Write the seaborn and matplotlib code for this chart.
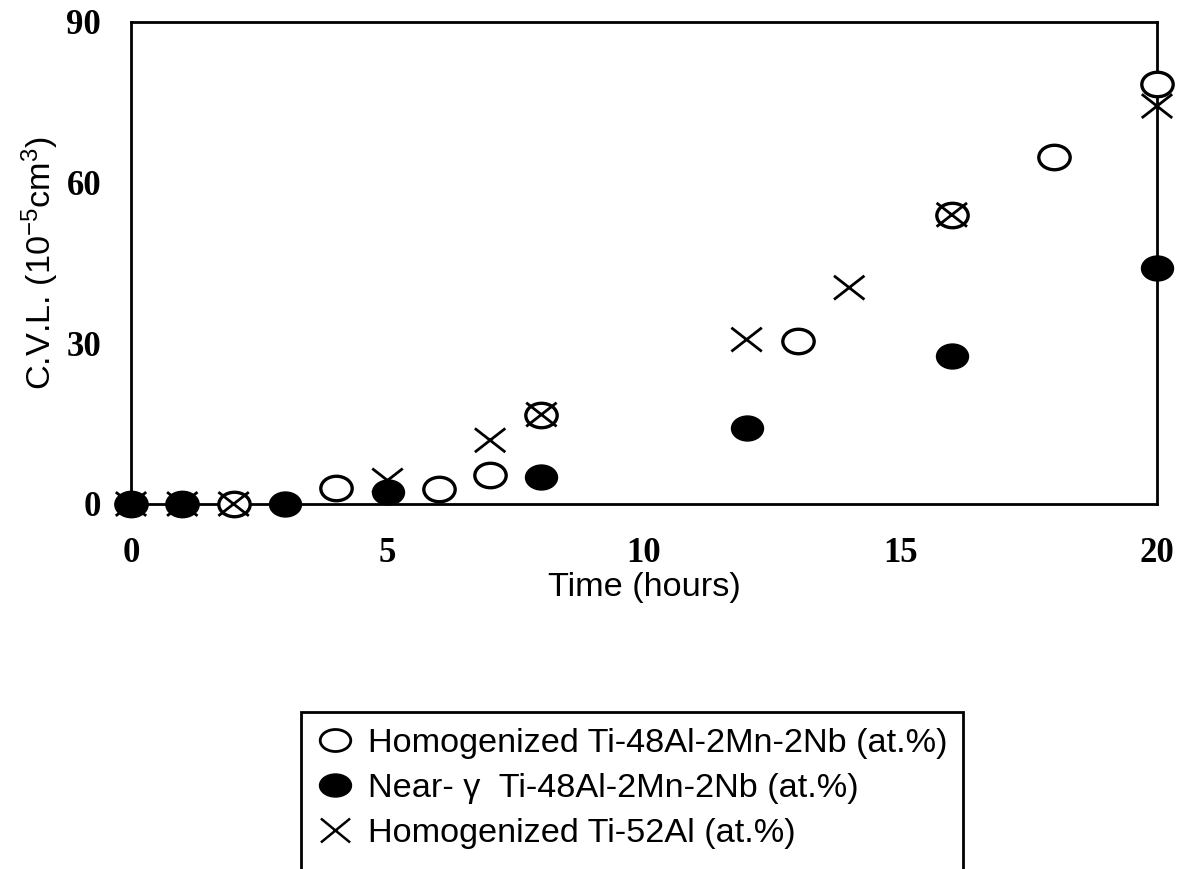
import numpy as np
import pandas as pd
import matplotlib
matplotlib.use("Agg")
import matplotlib.pyplot as plt
import seaborn as sns
from matplotlib.path import Path
from matplotlib.lines import Line2D

# Cumulative volume loss (10^-5 cm^3) against exposure time (hours)
hom_time = [0, 1, 2, 4, 6, 7, 8, 13, 16, 18, 20]
hom_cvl = [0, 0, 0, 3.0, 2.8, 5.4, 16.7, 30.4, 54.0, 64.8, 78.5]

near_time = [0, 1, 3, 5, 8, 12, 16, 20]
near_cvl = [0, 0, 0, 2.2, 5.0, 14.1, 27.6, 44.1]

ti52_time = [0, 1, 2, 5, 7, 8, 12, 14, 16, 20]
ti52_cvl = [0, 0, 0, 4.4, 11.9, 16.7, 30.7, 40.4, 54.0, 74.3]

labels = [
    "Homogenized Ti-48Al-2Mn-2Nb (at.%)",
    "Near- \u03b3  Ti-48Al-2Mn-2Nb (at.%)",
    "Homogenized Ti-52Al (at.%)",
]
x_ticks = [0, 5, 10, 15, 20]
y_ticks = [0, 30, 60, 90]

sns.set_style("white")
plt.rcParams["font.family"] = ["Liberation Sans", "DejaVu Sans"]
plt.rcParams["mathtext.default"] = "regular"
for key in ("text.color", "axes.labelcolor", "xtick.color", "ytick.color"):
    plt.rcParams[key] = "black"

# Slightly flattened ellipse and cross markers
def ellipse_path(aspect):
    circ = Path.unit_circle()
    return Path(circ.vertices * np.array([1.0, aspect]), circ.codes)

def cross_path(aspect):
    return Path(
        [(-1, -aspect), (1, aspect), (-1, aspect), (1, -aspect)],
        [Path.MOVETO, Path.LINETO, Path.MOVETO, Path.LINETO],
    )

ellipse = ellipse_path(0.78)
cross = cross_path(0.78)

W, H = 1179, 869
L, R, B, T = 131, 1157, 504, 22
fig = plt.figure(figsize=(W / 100, H / 100), dpi=100)
ax = fig.add_axes([L / W, 1 - B / H, (R - L) / W, (B - T) / H])

hom = pd.DataFrame({"t": hom_time, "v": hom_cvl})
near = pd.DataFrame({"t": near_time, "v": near_cvl})
ti52 = pd.DataFrame({"t": ti52_time, "v": ti52_cvl})

sns.scatterplot(data=hom, x="t", y="v", ax=ax, marker=ellipse, s=510,
                facecolor="white", edgecolor="black", linewidth=2.4,
                clip_on=False, zorder=3, legend=False)
sns.scatterplot(data=ti52, x="t", y="v", ax=ax, marker=cross, s=480,
                facecolor="none", edgecolor="black", linewidth=2.0,
                clip_on=False, zorder=4, legend=False)
sns.scatterplot(data=near, x="t", y="v", ax=ax, marker=ellipse, s=530,
                facecolor="black", edgecolor="black", linewidth=1.0,
                clip_on=False, zorder=5, legend=False)

ax.set_xlim(0, 20)
ax.set_ylim(0, 90)
ax.set_xticks(x_ticks)
ax.set_yticks(y_ticks)
ax.set_xticklabels([str(v) for v in x_ticks], family="Liberation Serif",
                   fontweight="bold", fontsize=25)
ax.set_yticklabels([str(v) for v in y_ticks], family="Liberation Serif",
                   fontweight="bold", fontsize=25)
ax.tick_params(axis="x", direction="out", length=8.6, width=2.0,
               color="black", pad=15.5)
ax.tick_params(axis="y", direction="out", length=7.2, width=2.0,
               color="black", pad=14.4)
for sp in ax.spines.values():
    sp.set_visible(True)
    sp.set_color("black")
    sp.set_linewidth(2.0)

ax.set_xlabel("Time (hours)", fontsize=24.7, labelpad=1)
ax.set_ylabel(r"C.V.L. (10$^{-5}$cm$^{3}$)", fontsize=24.7)
ax.yaxis.set_label_coords((61 - L) / (R - L), 0.5)

leg_ellipse = ellipse_path(0.72)
handles = [
    Line2D([], [], linestyle="none", marker=leg_ellipse, markersize=22,
           markerfacecolor="white", markeredgecolor="black", markeredgewidth=2.0),
    Line2D([], [], linestyle="none", marker=leg_ellipse, markersize=23,
           markerfacecolor="black", markeredgecolor="black"),
    Line2D([], [], linestyle="none", marker=cross_path(0.82), markersize=21,
           markerfacecolor="none", markeredgecolor="black", markeredgewidth=1.8),
    # blank row: the legend box runs on past the lower edge of the figure
    Line2D([], [], linestyle="none"),
]
leg = fig.legend(handles, labels + [" "], loc="upper left",
                 bbox_to_anchor=(301 / W, 1 - 712 / H),
                 frameon=True, fancybox=False, framealpha=1, fontsize=24.7,
                 handlelength=1.05, handletextpad=0.42, labelspacing=0.40,
                 borderpad=0.47, borderaxespad=0)
leg.get_frame().set_edgecolor("black")
leg.get_frame().set_linewidth(2.0)
for t in leg.get_texts():
    t.set_color("black")

fig.savefig("out.png", dpi=100)
